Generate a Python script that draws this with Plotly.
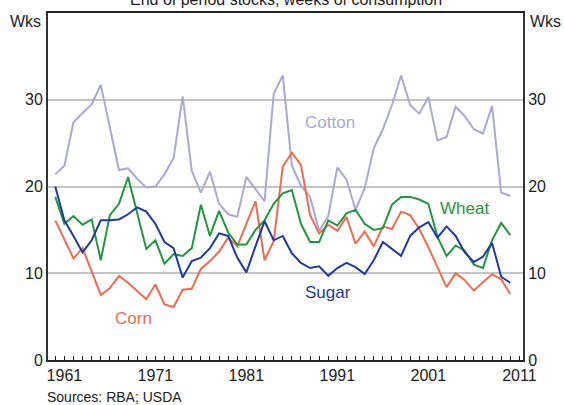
import plotly.graph_objects as go

years = list(range(1960, 2011))

cotton = [21.4, 22.4, 27.4, 28.5, 29.5, 31.7, 26.8, 21.9, 22.1, 20.9,
          19.9, 20.0, 21.4, 23.3, 30.4, 21.8, 19.3, 21.7, 18.0, 16.8,
          16.5, 21.1, 19.7, 18.3, 30.7, 32.8, 22.4, 20.1, 18.8, 14.9,
          16.6, 22.2, 20.8, 17.3, 19.8, 24.4, 26.6, 29.4, 32.8, 29.4,
          28.4, 30.3, 25.3, 25.7, 29.2, 28.1, 26.6, 26.1, 29.3, 19.3,
          18.9]
sugar = [20.0, 16.1, 14.3, 12.4, 13.8, 16.1, 16.1, 16.2, 16.8, 17.6,
         17.1, 15.7, 13.6, 12.9, 9.5, 11.4, 11.8, 12.9, 14.6, 14.3,
         11.8, 10.1, 13.1, 16.0, 13.8, 14.3, 12.3, 11.2, 10.6, 10.8,
         9.7, 10.6, 11.2, 10.7, 9.9, 11.5, 13.6, 12.8, 12.0, 14.3,
         15.3, 15.9, 14.1, 15.4, 14.3, 12.4, 11.3, 11.9, 13.5, 9.6,
         8.9]
wheat = [18.8, 15.7, 16.6, 15.6, 16.2, 11.5, 16.7, 18.0, 21.1, 17.0,
         12.8, 13.8, 11.1, 12.2, 12.0, 12.9, 17.9, 14.3, 17.2, 14.7,
         13.3, 13.3, 15.0, 16.1, 18.0, 19.2, 19.6, 15.7, 13.6, 13.6,
         16.1, 15.5, 16.9, 17.3, 15.7, 15.0, 15.2, 17.9, 18.8, 18.8,
         18.5, 18.0, 14.2, 12.0, 13.2, 12.6, 11.0, 10.6, 13.8, 15.8,
         14.4]
corn = [16.1, 13.9, 11.7, 12.9, 10.1, 7.5, 8.3, 9.7, 8.9, 7.9,
        7.0, 8.7, 6.4, 6.1, 8.1, 8.2, 10.5, 11.4, 12.5, 14.1,
        13.1, 15.7, 18.3, 11.5, 13.7, 22.3, 23.9, 22.5, 16.7, 14.6,
        15.6, 14.9, 16.5, 13.4, 14.8, 13.1, 15.4, 15.1, 17.1, 16.7,
        15.1, 13.0, 10.7, 8.4, 10.0, 9.2, 8.0, 8.9, 9.9, 9.3,
        7.6]

year_labels = [1961, 1971, 1981, 1991, 2001, 2011]
y_ticks = [0, 10, 20, 30]

FONT = "Liberation Sans, Arial, sans-serif"

series = [
    ("Cotton", cotton, "#a9a9d8", 1990.2, 27.4),
    ("Corn", corn, "#f26a4f", 1968.65, 4.8),
    ("Wheat", wheat, "#23973f", 2005.0, 17.5),
    ("Sugar", sugar, "#1f3c9c", 1990.0, 7.8),
]

fig = go.Figure()

for name, vals, color, lx, ly in series:
    fig.add_trace(
        go.Scatter(
            x=years,
            y=vals,
            mode="lines",
            line=dict(color=color, width=2),
            name=name,
            showlegend=False,
        )
    )
    # inline series label
    fig.add_annotation(
        text=name,
        x=lx,
        y=ly,
        xref="x",
        yref="y",
        showarrow=False,
        font=dict(size=17, color=color, family=FONT),
    )

# invisible trace so the right-hand axis is drawn
fig.add_trace(
    go.Scatter(x=[years[0]], y=[0], yaxis="y2", mode="markers",
               marker=dict(opacity=0), showlegend=False, hoverinfo="skip")
)

fig.add_annotation(
    text="End of period stocks, weeks of consumption",
    x=0.5, y=1, xref="paper", yref="paper",
    xanchor="center", yanchor="bottom", yshift=3,
    showarrow=False, font=dict(size=16, color="#222", family=FONT),
)
fig.add_annotation(
    text="Wks", x=0, y=1, xref="paper", yref="paper",
    xanchor="right", yanchor="top", xshift=-5, yshift=2,
    showarrow=False, font=dict(size=16, color="#222", family=FONT),
)
fig.add_annotation(
    text="Wks", x=1, y=1, xref="paper", yref="paper",
    xanchor="left", yanchor="top", xshift=5, yshift=2,
    showarrow=False, font=dict(size=16, color="#222", family=FONT),
)
fig.add_annotation(
    text="Sources: RBA; USDA", x=0, y=0, xref="paper", yref="paper",
    xanchor="left", yanchor="top", xshift=-3, yshift=-27,
    showarrow=False, font=dict(size=14, color="#222", family=FONT),
)

fig.update_layout(
    width=564,
    height=405,
    margin=dict(l=48, r=41, t=13, b=45),
    plot_bgcolor="white",
    paper_bgcolor="white",
    font=dict(family=FONT, size=16, color="#222"),
    xaxis=dict(
        range=[1959.2, 2011.4],
        tickvals=year_labels,
        ticks="inside",
        ticklen=4,
        tickcolor="#222",
        minor=dict(dtick=1, tick0=1960, ticks="inside", ticklen=4, tickcolor="#222"),
        showgrid=False,
        zeroline=False,
        showline=True,
        linecolor="#222",
        linewidth=1.5,
        mirror=True,
        tickfont=dict(size=16),
    ),
    yaxis=dict(
        range=[0, 40],
        tickvals=y_ticks,
        showgrid=True,
        gridcolor="#c4c4c4",
        gridwidth=1.5,
        zeroline=False,
        showline=True,
        linecolor="#333",
        linewidth=2,
        ticks="",
        tickfont=dict(size=16),
    ),
    yaxis2=dict(
        range=[0, 40],
        tickvals=y_ticks,
        overlaying="y",
        side="right",
        showgrid=False,
        zeroline=False,
        showline=True,
        linecolor="#333",
        linewidth=2,
        ticks="",
        tickfont=dict(size=16),
    ),
)

# drop the default page margin so the figure sits at the window's corner
fig.write_html(
    "out.html",
    config={"displayModeBar": False},
    post_script="document.body.style.margin='0';",
)
